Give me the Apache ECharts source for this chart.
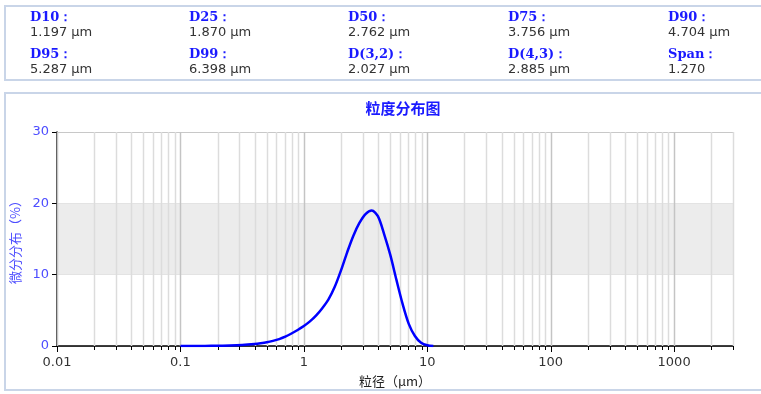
<!DOCTYPE html>
<html><head><meta charset="utf-8">
<script src="https://cdn.jsdelivr.net/npm/echarts@6/dist/echarts.min.js"></script>
<style>html,body{margin:0;padding:0;background:#fff;}#c{width:761px;height:394px;}</style>
</head><body><div id="c"></div>
<script>
// ---- data ----
const infoLabels = ['D10：','D25：','D50：','D75：','D90：','D95：','D99：','D(3,2)：','D(4,3)：','Span：'];
const infoValues = ['1.197 μm','1.870 μm','2.762 μm','3.756 μm','4.704 μm','5.287 μm','6.398 μm','2.027 μm','2.885 μm','1.270'];
const sizes = [0.1,0.126,0.158,0.2,0.251,0.316,0.398,0.447,0.501,0.562,0.631,0.708,0.794,0.891,1.0,1.12,1.26,1.41,1.58,1.78,2.0,2.24,2.51,2.82,3.16,3.55,3.98,4.47,5.01,5.62,6.31,7.08,7.94,8.91,10,11.2];
const freq  = [0,0.005,0.01,0.03,0.06,0.13,0.27,0.38,0.52,0.72,0.97,1.3,1.75,2.25,2.8,3.45,4.3,5.3,6.5,8.3,10.6,13.1,15.4,17.25,18.5,19.0,18.2,15.7,12.8,9.3,5.9,3.1,1.4,0.45,0.1,0];
const xTickLabels = ['0.01','0.1','1','10','100','1000'];
const bandRange = [10,20];
const title = '粒度分布图';
const xName = '粒径（μm）';
const yName = '微分分布（%）';

// ---- tick positions (1..9 per decade) ----
const gridVals = [];
for (let d = -2; d <= 3; d++) {
  for (let m = 1; m <= 9; m++) {
    const v = +(m * Math.pow(10, d)).toPrecision(6);
    if (v <= 3000) gridVals.push(v);
  }
}

const chart = echarts.init(document.getElementById('c'));
const colX = [30,189,348,508,668];
const graphics = [
  {type:'rect', shape:{x:5,y:6,width:800,height:74}, style:{fill:'none',stroke:'#c9d5e8',lineWidth:2}, silent:true},
  {type:'rect', shape:{x:5,y:93,width:800,height:297}, style:{fill:'none',stroke:'#c9d5e8',lineWidth:2}, silent:true},
  {type:'text', x:403, y:108, style:{text:title, fill:'#1a1aff', font:'bold 15px "Noto Sans CJK SC"', align:'center', verticalAlign:'middle'}}
];
infoLabels.forEach((t,i)=>{
  const col = i%5, row = Math.floor(i/5);
  graphics.push({type:'text', x:colX[col], y:18+row*37, style:{text:t, fill:'#1a1aff', font:'bold 13px "DejaVu Serif"', verticalAlign:'middle'}});
  graphics.push({type:'text', x:colX[col], y:33+row*37, style:{text:infoValues[i], fill:'#333', font:'13px "DejaVu Sans"', verticalAlign:'middle'}});
});

chart.setOption({
  animation:false,
  graphic: graphics,
  grid:{left:57, right:28, top:132, bottom:48, outerBoundsMode:'none', containLabel:false},
  xAxis:{
    type:'log', logBase:10, min:0.01, max:3000,
    name:xName, nameLocation:'middle', nameGap:29,
    nameTextStyle:{color:'#222', fontSize:13, fontFamily:'Noto Sans CJK SC'},
    axisLine:{show:true, onZero:false, lineStyle:{color:'#000', width:1.5}},
    axisTick:{show:false},
    splitLine:{show:false},
    axisLabel:{color:'#333', fontSize:13, fontFamily:'DejaVu Sans', margin:10,
      formatter:(v)=>{ const s = xTickLabels.find(t=>Math.abs(+t - v) < v*1e-6); return s===undefined ? '' : s; }}
  },
  yAxis:{
    type:'value', min:0, max:30, interval:10,
    name:yName, nameLocation:'middle', nameGap:33, nameRotate:90,
    nameTextStyle:{color:'#4d4dff', fontSize:13, fontFamily:'Noto Sans CJK SC'},
    axisLine:{show:true, lineStyle:{color:'#000', width:1.5}},
    axisTick:{show:true, length:5, lineStyle:{color:'#000'}},
    axisLabel:{color:'#4d4dff', fontSize:13, fontFamily:'DejaVu Sans', margin:8},
    splitLine:{show:true, lineStyle:{color:'#c8c8c8', width:1}}
  },
  series:[
    {
      type:'line', data:[], z:-1, silent:true,
      markArea:{silent:true, itemStyle:{color:'#ececec'}, data:[[{yAxis:bandRange[0]},{yAxis:bandRange[1]}]]}
    },
    {
      type:'custom', z:1, silent:true, clip:false,
      data: gridVals.map(v=>[v,0]),
      renderItem:(params, api)=>{
        const v = api.value(0);
        const p0 = api.coord([v, 0]);
        const p1 = api.coord([v, 30]);
        const isMajor = Math.abs(Math.log10(v) - Math.round(Math.log10(v))) < 1e-6;
        const x = Math.round(p0[0]) + 0.5;
        return {type:'group', children:[
          {type:'line', shape:{x1:x,y1:p0[1],x2:x,y2:p1[1]}, style:{stroke:isMajor?'#c4c4c4':'#dcdcdc', lineWidth:1.5}},
          {type:'line', shape:{x1:x,y1:p0[1],x2:x,y2:p0[1]+(isMajor?6:4)}, style:{stroke:'#000', lineWidth:1}}
        ]};
      }
    },
    {
      type:'line', z:3, smooth:0.3, showSymbol:false, symbol:'none',
      data: sizes.map((s,i)=>[s, freq[i]]),
      lineStyle:{color:'#0000ff', width:2.5}
    }
  ]
});
</script></body></html>
